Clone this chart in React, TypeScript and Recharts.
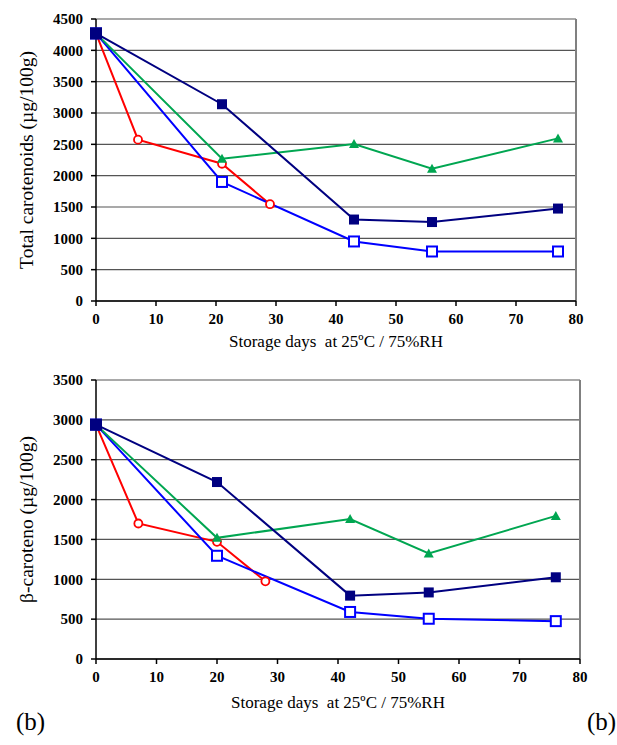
import React from "react";
import {
  LineChart,
  Line,
  XAxis,
  YAxis,
  CartesianGrid,
  ReferenceLine,
} from "recharts";

// storage days (top chart: total carotenoids)
const daysA = [0, 21, 43, 56, 77];
const daysRedA = [0, 7, 21, 29];
const totalNavy = [4270, 3140, 1300, 1260, 1475];
const totalGreen = [4270, 2270, 2505, 2110, 2595];
const totalBlue = [4270, 1900, 950, 790, 790];
const totalRed = [4270, 2575, 2190, 1545];

// storage days (bottom chart: beta-carotene)
const daysB = [0, 20, 42, 55, 76];
const daysRedB = [0, 7, 20, 28];
const betaNavy = [2940, 2220, 795, 835, 1025];
const betaGreen = [2940, 1520, 1755, 1325, 1795];
const betaBlue = [2940, 1295, 590, 505, 475];
const betaRed = [2940, 1700, 1470, 975];

const xTicks = [0, 10, 20, 30, 40, 50, 60, 70, 80];
const yTicksA = [0, 500, 1000, 1500, 2000, 2500, 3000, 3500, 4000, 4500];
const yTicksB = [0, 500, 1000, 1500, 2000, 2500, 3000, 3500];

const zip = (xs: number[], ys: number[]) =>
  xs.map((d, i) => ({ day: d, v: ys[i] }));

const NAVY = "#000080";
const GREEN = "#00A651";
const BLUE = "#0000FF";
const RED = "#FF0000";
const SERIF = "'Liberation Serif', 'Times New Roman', serif";

const filledSquare = (p: any) => {
  const s = p.index === 0 ? 12 : 10;
  return (
    <rect
      key={"fs" + p.index}
      x={p.cx - s / 2}
      y={p.cy - s / 2}
      width={s}
      height={s}
      fill={NAVY}
    />
  );
};
const openSquare = (p: any) => (
  <rect
    key={"os" + p.index}
    x={p.cx - 5}
    y={p.cy - 5}
    width={10}
    height={10}
    fill="#fff"
    stroke={BLUE}
    strokeWidth={2}
  />
);
const triangle = (p: any) => (
  <path
    key={"tr" + p.index}
    d={`M${p.cx},${p.cy - 5} L${p.cx + 5},${p.cy + 4} L${p.cx - 5},${p.cy + 4} Z`}
    fill={GREEN}
  />
);
const openCircle = (p: any) => (
  <circle
    key={"oc" + p.index}
    cx={p.cx}
    cy={p.cy}
    r={4}
    fill="#fff"
    stroke={RED}
    strokeWidth={1.8}
  />
);

const tickStyle = { fontSize: 15, fontWeight: 700, fill: "#000", fontFamily: SERIF };

interface PanelProps {
  top: number;
  height: number;
  margin: any;
  yMax: number;
  yTicks: number[];
  yLabel: string;
  xOffset: number;
  navy: any[];
  green: any[];
  blue: any[];
  red: any[];
}

const Panel: React.FC<PanelProps> = (p) => (
  <div style={{ position: "absolute", left: 0, top: p.top }}>
    <LineChart width={617} height={p.height} margin={p.margin}>
      <CartesianGrid vertical={false} stroke="#555" strokeWidth={1.2} />
      <XAxis
        type="number"
        dataKey="day"
        domain={[0, 80]}
        ticks={xTicks}
        height={50}
        tickSize={5}
        tickMargin={7}
        tick={tickStyle}
        stroke="#000"
        strokeWidth={1.5}
        allowDuplicatedCategory={false}
        label={{
          value: "Storage days\u00a0 at 25ºC / 75%RH",
          position: "insideBottom",
          offset: p.xOffset,
          style: { fontSize: 17, fontFamily: SERIF, fill: "#000" },
        }}
      />
      <YAxis
        type="number"
        domain={[0, p.yMax]}
        ticks={p.yTicks}
        width={96}
        tickSize={5}
        tickMargin={8}
        tick={tickStyle}
        stroke="#000"
        strokeWidth={1.5}
        interval={0}
        label={{
          value: p.yLabel,
          angle: -90,
          position: "center",
          dx: -22,
          style: { fontSize: 19.5, fontFamily: SERIF, fill: "#000", textAnchor: "middle" },
        }}
      />
      <ReferenceLine x={80} stroke="#808080" strokeWidth={2} />
      <Line data={p.red} dataKey="v" stroke={RED} strokeWidth={2} dot={openCircle} isAnimationActive={false} />
      <Line data={p.blue} dataKey="v" stroke={BLUE} strokeWidth={2} dot={openSquare} isAnimationActive={false} />
      <Line data={p.green} dataKey="v" stroke={GREEN} strokeWidth={2} dot={triangle} isAnimationActive={false} />
      <Line data={p.navy} dataKey="v" stroke={NAVY} strokeWidth={2} dot={filledSquare} isAnimationActive={false} />
    </LineChart>
  </div>
);

const bStyle: React.CSSProperties = {
  position: "absolute",
  top: 704,
  fontFamily: SERIF,
  fontSize: 25,
  lineHeight: "36px",
};

export default function App() {
  return (
    <div style={{ position: "absolute", left: 0, top: 0, width: 617, height: 745, background: "#fff" }}>
      <Panel
        top={0}
        height={360}
        margin={{ top: 19, right: 41, left: 0, bottom: 9 }}
        yMax={4500}
        yTicks={yTicksA}
        yLabel="Total carotenoids (µg/100g)"
        xOffset={4}
        navy={zip(daysA, totalNavy)}
        green={zip(daysA, totalGreen)}
        blue={zip(daysA, totalBlue)}
        red={zip(daysRedA, totalRed)}
      />
      <Panel
        top={360}
        height={385}
        margin={{ top: 20, right: 37, left: 0, bottom: 36 }}
        yMax={3500}
        yTicks={yTicksB}
        yLabel="β-caroteno (µg/100g)"
        xOffset={1}
        navy={zip(daysB, betaNavy)}
        green={zip(daysB, betaGreen)}
        blue={zip(daysB, betaBlue)}
        red={zip(daysRedB, betaRed)}
      />
      <div style={{ ...bStyle, left: 16 }}>(b)</div>
      <div style={{ ...bStyle, left: 587 }}>(b)</div>
    </div>
  );
}
